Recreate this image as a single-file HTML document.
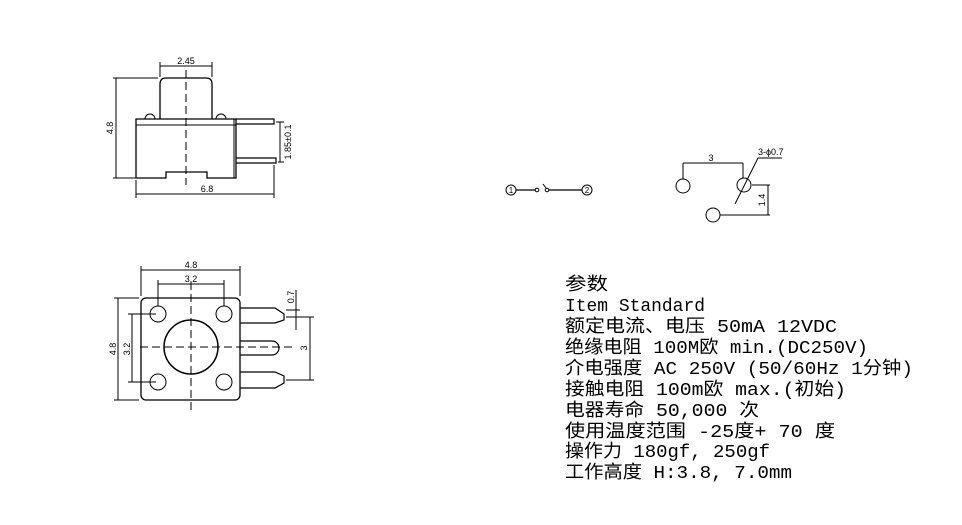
<!DOCTYPE html>
<html><head><meta charset="utf-8"><style>
html,body{margin:0;padding:0;background:#fff;}
svg{display:block;}
text{font-family:"Liberation Sans",sans-serif;fill:#000;}
.t text{font-family:"Liberation Mono","Noto Sans CJK SC",monospace;font-size:18px;}
</style></head><body>
<svg width="962" height="525" viewBox="0 0 962 525" xmlns="http://www.w3.org/2000/svg">
<g fill="none" stroke="#000" stroke-width="1">
<!-- side view -->
<path d="M160 119 V84 Q160 78 166 78 H206 Q212 78 212 84 V119" stroke-width="1.3"/>
<path d="M145 119 A5 5 0 0 1 155 119 M216 119 A5 5 0 0 1 226 119"/>
<path d="M136 119 H236 V178 H207 V172 H166 V178 H136 Z" stroke-width="1.3"/>
<line x1="136" y1="125" x2="236" y2="125"/>
<line x1="234" y1="119" x2="234" y2="178"/>
<path d="M236 119 H274 V124 H236 M236 158 H276 V163 H236" stroke-width="1.2"/>
<line x1="186" y1="70" x2="186" y2="185" stroke-dasharray="8,4"/>
<path d="M160 77 V62 M212 77 V62 M160 66 H212"/>
<path d="M158 78 H113 M136 178 H113 M116 78 V178"/>
<path d="M136 180 V198 M274 165 V198 M136 194 H274"/>
<path d="M276 122 H284 M278 162 H284 M280 122 V162"/>
<!-- top view -->
<rect x="141" y="298" width="99" height="102" rx="5" stroke-width="1.3"/>
<circle cx="158" cy="314" r="8"/><circle cx="224" cy="314" r="8"/>
<circle cx="158" cy="382" r="8"/><circle cx="224" cy="382" r="8"/>
<circle cx="191" cy="347" r="27" stroke-width="1.5"/>
<path d="M240 308 H275 L284 314 V320 L275 323 H240 M240 372 H275 L284 376 V383 L275 388 H240" stroke-width="1.2"/>
<path d="M240 341 H272 A7 7 0 0 1 272 355 H240" stroke-width="1.2"/>
<line x1="191" y1="282" x2="191" y2="412" stroke-dasharray="8,4"/>
<line x1="140" y1="347" x2="292" y2="347" stroke-dasharray="8,4"/>
<path d="M141 296 V266 M240 296 V266 M141 270 H240"/>
<path d="M158 306 V280 M224 306 V280 M158 284 H224"/>
<path d="M139 298 H114 M139 400 H114 M118 298 V400"/>
<path d="M156 314 H128 M156 382 H128 M132 314 V382"/>
<path d="M286 317 H314 M286 380 H314 M310 317 V380"/>
<path d="M296 290 V330 M286 310 H300"/>
<!-- switch symbol -->
<circle cx="511" cy="190" r="5"/><circle cx="587" cy="190" r="5"/>
<line x1="516" y1="190" x2="535" y2="190" stroke-width="1.3"/>
<circle cx="537" cy="190" r="1.8"/>
<circle cx="547" cy="190" r="1.8"/>
<line x1="546" y1="188" x2="543" y2="184"/>
<line x1="549" y1="190" x2="582" y2="190" stroke-width="1.3"/>
<!-- hole pattern -->
<circle cx="683" cy="186" r="7"/><circle cx="744" cy="185" r="7"/><circle cx="713" cy="215" r="7"/>
<path d="M683 179 V163 M743 178 V163 M683 163 H743"/>
<path d="M735 204 L758 158 H782"/>
<path d="M752 185 H770 M720 215 H770 M768 185 V215"/>
</g>
<g font-size="9">
<text x="186" y="64" text-anchor="middle">2.45</text>
<text x="207" y="192" text-anchor="middle">6.8</text>
<text transform="translate(113 128) rotate(-90)" text-anchor="middle">4.8</text>
<text transform="translate(291 142) rotate(-90)" text-anchor="middle">1.85±0.1</text>
<text x="191" y="268" text-anchor="middle">4.8</text>
<text x="191" y="282" text-anchor="middle">3.2</text>
<text transform="translate(116 349) rotate(-90)" text-anchor="middle">4.8</text>
<text transform="translate(130 349) rotate(-90)" text-anchor="middle">3.2</text>
<text transform="translate(294 297) rotate(-90)" text-anchor="middle">0.7</text>
<text transform="translate(307 348) rotate(-90)" text-anchor="middle">3</text>
<text x="711" y="161" text-anchor="middle">3</text>
<text x="758" y="155">3-ϕ0.7</text>
<text transform="translate(765 200) rotate(-90)" text-anchor="middle">1.4</text>
<text x="511" y="193" text-anchor="middle" font-size="8">1</text>
<text x="587" y="193" text-anchor="middle" font-size="8">2</text>
</g>
<g class="t">
<text x="565" y="290" textLength="43" lengthAdjust="spacingAndGlyphs">参数</text>
<text x="565" y="311" textLength="140" lengthAdjust="spacingAndGlyphs">Item Standard</text>
<text x="565" y="332" textLength="272" lengthAdjust="spacingAndGlyphs">额定电流、电压 50mA 12VDC</text>
<text x="565" y="353" textLength="303" lengthAdjust="spacingAndGlyphs">绝缘电阻 100M欧 min.(DC250V)</text>
<text x="565" y="374" textLength="348" lengthAdjust="spacingAndGlyphs">介电强度 AC 250V (50/60Hz 1分钟)</text>
<text x="565" y="395" textLength="281" lengthAdjust="spacingAndGlyphs">接触电阻 100m欧 max.(初始)</text>
<text x="565" y="416" textLength="194" lengthAdjust="spacingAndGlyphs">电器寿命 50,000 次</text>
<text x="565" y="437" textLength="270" lengthAdjust="spacingAndGlyphs">使用温度范围 -25度+ 70 度</text>
<text x="565" y="457" textLength="205" lengthAdjust="spacingAndGlyphs">操作力 180gf, 250gf</text>
<text x="565" y="478" textLength="227" lengthAdjust="spacingAndGlyphs">工作高度 H:3.8, 7.0mm</text>
</g>
</svg>
</body></html>
